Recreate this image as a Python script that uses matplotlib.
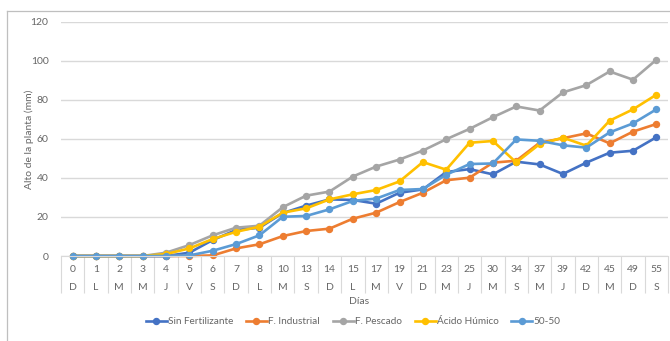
import matplotlib
matplotlib.use("Agg")
import matplotlib.pyplot as plt
from matplotlib.lines import Line2D
from matplotlib.transforms import blended_transform_factory

# Days after sowing and weekday initials
dias = [0, 1, 2, 3, 4, 5, 6, 7, 8, 10, 13, 14, 15, 17, 19, 21, 23, 25, 30, 34, 37, 39, 42, 45, 49, 55]
semana = ["D", "L", "M", "M", "J", "V", "S", "D", "L", "M", "S", "D", "L", "M", "V", "D",
          "M", "J", "M", "S", "M", "J", "D", "M", "D", "S"]

# Plant height (mm) per treatment
sin_fertilizante = [0, 0, 0, 0, 0, 1.7, 8.2, 13.3, 14.5, 22.0, 25.8, 29.0, 28.7, 26.8, 32.4, 34.1,
                    43.0, 44.5, 41.8, 48.3, 46.9, 42.0, 47.8, 52.9, 53.9, 60.8]
f_industrial = [0, 0, 0, 0, 0, 0, 0.3, 3.9, 6.0, 10.2, 12.8, 14.0, 19.1, 22.2, 27.6, 32.4,
                38.8, 40.1, 47.8, 48.8, 58.0, 60.3, 62.8, 57.7, 63.7, 67.6]
f_pescado = [0, 0, 0, 0, 1.7, 5.6, 10.6, 14.5, 15.5, 25.0, 30.9, 33.0, 40.7, 45.8, 49.4, 54.0,
             59.8, 65.1, 71.1, 76.6, 74.5, 83.8, 87.5, 94.5, 90.3, 100.5]
acido_humico = [0, 0, 0, 0, 1.0, 3.9, 8.7, 12.4, 15.0, 22.2, 24.4, 29.0, 31.6, 33.8, 38.2, 48.1,
                44.2, 58.0, 58.9, 47.9, 57.3, 60.6, 56.5, 69.3, 75.1, 82.6]
mezcla_50_50 = [0, 0, 0, 0, 0, 0.3, 2.7, 6.1, 10.6, 20.1, 20.5, 23.9, 28.2, 29.4, 33.8, 34.3,
                41.6, 47.1, 47.4, 59.7, 59.0, 56.7, 55.5, 63.3, 67.9, 75.1]

series = [
    ("Sin Fertilizante", sin_fertilizante, "#4472C4"),
    ("F. Industrial", f_industrial, "#ED7D31"),
    ("F. Pescado", f_pescado, "#A5A5A5"),
    ("Ácido Húmico", acido_humico, "#FFC000"),
    ("50-50", mezcla_50_50, "#5B9BD5"),
]

plt.rcParams["font.family"] = ["Lato", "DejaVu Sans"]
TXT = "#666666"
GRID = "#d9d9d9"
FS = 7.5

W, H = 670, 341
fig = plt.figure(figsize=(W / 100, H / 100), dpi=100)
left, right, bottom, top = 61, 668, 256, 21.7
ax = fig.add_axes([left / W, (H - bottom) / H, (right - left) / W, (bottom - top) / H])

x = list(range(len(dias)))
for name, vals, color in series:
    ax.plot(x, vals, color=color, lw=1.9, marker="o", ms=4.3, label=name,
            solid_joinstyle="round", clip_on=False)

ax.set_xlim(-0.5, len(dias) - 0.5)
ax.set_ylim(0, 120)
ax.set_yticks(range(0, 121, 20))
ax.yaxis.grid(True, color=GRID, lw=1)
ax.set_axisbelow(True)
for s in ["top", "right", "left"]:
    ax.spines[s].set_visible(False)
ax.spines["bottom"].set_color(GRID)
ax.tick_params(axis="y", length=0, labelsize=FS, labelcolor=TXT, pad=9)

# Category separators extending through both label rows
ax.set_xticks([i - 0.5 for i in range(len(dias) + 1)])
ax.set_xticklabels([])
ax.tick_params(axis="x", length=26.6, color=GRID, width=0.8)

trans = blended_transform_factory(ax.transData, ax.transAxes)
for i, (d, s) in enumerate(zip(dias, semana)):
    ax.annotate(str(d), xy=(i, 0), xycoords=trans, xytext=(0, -9.5), textcoords="offset points",
                ha="center", va="center", fontsize=FS, color=TXT)
    ax.annotate(s, xy=(i, 0), xycoords=trans, xytext=(0, -22.5), textcoords="offset points",
                ha="center", va="center", fontsize=FS, color=TXT)

fig.text(359 / W, (H - 302) / H, "Días", ha="center", va="center",
         fontsize=FS, color=TXT)
fig.text(29 / W, (H - 139) / H, "Alto de la planta (mm)", rotation=90, ha="center",
         va="center", fontsize=FS, color=TXT)

handles, labels = ax.get_legend_handles_labels()
fig.legend(handles, labels, loc="center", bbox_to_anchor=(353 / W, (H - 322) / H),
           ncol=5, frameon=False, fontsize=7.2, labelcolor=TXT, handlelength=2.1,
           handletextpad=0.1, columnspacing=1.3)

# Chart frame
fig.add_artist(Line2D([7 / W, 7 / W], [0, (H - 10.7) / H], transform=fig.transFigure,
                      color="#bfbfbf", lw=0.9))
fig.add_artist(Line2D([7 / W, 1], [(H - 10.7) / H, (H - 10.7) / H], transform=fig.transFigure,
                      color="#bfbfbf", lw=0.9))

fig.savefig("out.png", dpi=100)
